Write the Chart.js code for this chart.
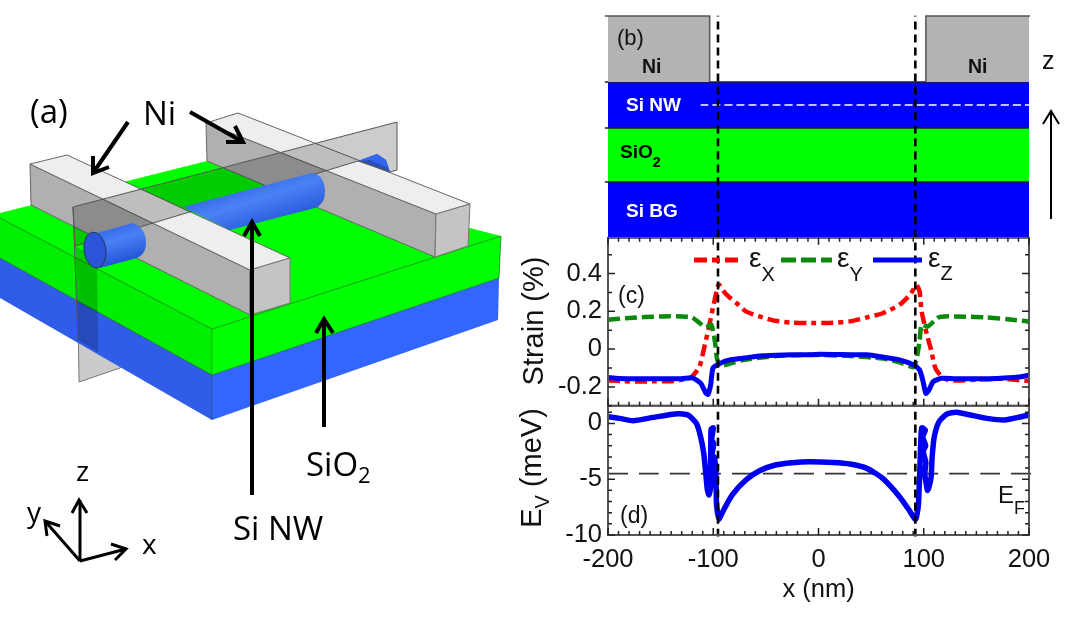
<!DOCTYPE html>
<html>
<head>
<meta charset="utf-8">
<title>Si nanowire strain</title>
<script src="https://cdn.jsdelivr.net/npm/chart.js@4"></script>
<style>
  html, body { margin: 0; padding: 0; background: #fff; }
  #wrap { position: relative; width: 1088px; height: 619px; overflow: hidden; }
  #plot, #art { position: absolute; left: 0; top: 0; }
  .open { font-family: "Open Sans", sans-serif; fill: #000; }
  .lib { font-family: "Liberation Sans", Arial, sans-serif; fill: #111; }
</style>
</head>
<body>
<div id="wrap">
  <canvas id="plot" width="1088" height="619"></canvas>
  <svg id="art" width="1088" height="619" viewBox="0 0 1088 619">
    <defs>
      <linearGradient id="wire" gradientUnits="userSpaceOnUse" x1="245" y1="180" x2="262" y2="232">
        <stop offset="0" stop-color="#2f62e6"/>
        <stop offset="0.4" stop-color="#4a82f5"/>
        <stop offset="1" stop-color="#2453d8"/>
      </linearGradient>
      <linearGradient id="stub" gradientUnits="userSpaceOnUse" x1="113" y1="224" x2="124" y2="262">
        <stop offset="0" stop-color="#2f62e6"/>
        <stop offset="0.4" stop-color="#4a82f5"/>
        <stop offset="1" stop-color="#2453d8"/>
      </linearGradient>
    </defs>

    <!-- (a) device sketch -->
    <polygon points="77,250 200,250 120,368 79,382" fill="#cbcbcb" stroke="#777" stroke-width="1"/>
    <polygon points="0,258 212,375 212,420 0,298" fill="#2f5de8"/>
    <polygon points="212,375 499,278 498,320 212,420" fill="#3366ff"/>
    <polygon points="0,218 212,329 212,375 0,258" fill="#00ee00"/>
    <polygon points="212,329 501,236 499,278 212,375" fill="#00ff00"/>
    <polygon points="0,213 207,161 501,236 212,329 0,218" fill="#00ff00"/>
    <polyline points="0,218 212,329 501,236 499,278 212,375 0,258" fill="none" stroke="#0a5a0a" stroke-opacity="0.6" stroke-width="1"/>
    <line x1="212" y1="329" x2="212" y2="420" stroke="#0a5a0a" stroke-opacity="0.4" stroke-width="1"/>

    <!-- back bar -->
    <polygon points="358,161 377,154 386,160 390,172 375,178" fill="#3366ee"/>
    <polygon points="206,123 436,214 435,257 207,161" fill="#b0b0b0" stroke="#666" stroke-width="1"/>
    <polygon points="206,123 238,113 470,204 436,214" fill="#eeeeee" stroke="#666" stroke-width="1"/>
    <polygon points="436,214 470,204 468,246 435,257" fill="#c4c4c4" stroke="#777" stroke-width="1"/>

    <!-- front bar -->
    <polygon points="30,164 250,270 250,315 31,205" fill="#b0b0b0" stroke="#666" stroke-width="1"/>
    <polygon points="30,164 67,155 290,258 250,270" fill="#eeeeee" stroke="#666" stroke-width="1"/>
    <polygon points="250,270 290,258 290,303 250,315" fill="#c4c4c4" stroke="#777" stroke-width="1"/>

    <!-- vertical cut plane, upper part -->
    <polygon points="73,207 397,122 397,170 390,172 358,161 97,240 75,246" fill="#000" fill-opacity="0.2" stroke="#555" stroke-width="1"/>
    <polygon points="75,246 97,258 98,352 78,340" fill="#000" fill-opacity="0.2"/>
    <line x1="73" y1="207" x2="78" y2="340" stroke="#555" stroke-width="1"/>

    <!-- wire -->
    <path d="M183,207 L312,173 Q325,175 325,192 Q325,204 315,208 L230,230 Z" fill="url(#wire)"/>
    <path d="M97,233 L133,223 Q146,228 146,243 Q146,254 137,258 L100,268 Z" fill="url(#stub)"/>
    <ellipse cx="95" cy="250" rx="11" ry="18" transform="rotate(-8 95 250)" fill="#2a55d8" stroke="#234" stroke-width="0.8"/>
    <polygon points="358,161 377,154 386,160 390,172 388,168 370,160" fill="#3366ee"/>

    <!-- arrows in (a) -->
    <g stroke="#000" stroke-width="4" fill="none">
      <path d="M252,495 V222 M244,236 L252,222 L260,236"/>
      <path d="M324,427 V319 M316,333 L324,319 L333,333"/>
      <path d="M128,122 L93,173 M93,156 L93,173 L109,167"/>
      <path d="M190,112 L243,142 M235,126 L243,142 L226,142"/>
    </g>
    <g stroke="#000" stroke-width="3" fill="none">
      <path d="M80,561 V500 M72,513 L79,500 L87,513"/>
      <path d="M80,561 L126,549 M111,544 L126,549 L115,560"/>
      <path d="M80,561 L45,521 M47,536 L45,521 L60,526"/>
    </g>
    <text class="open" x="30" y="123" font-size="33">(a)</text>
    <text class="open" x="143" y="125" font-size="33">Ni</text>
    <text class="open" x="233" y="540" font-size="33">Si NW</text>
    <text class="open" x="306" y="476" font-size="33">SiO<tspan font-size="22" dy="7">2</tspan></text>
    <text class="open" x="76" y="481" font-size="28">z</text>
    <text class="open" x="27" y="522" font-size="28">y</text>
    <text class="open" x="142" y="554" font-size="28">x</text>

    <!-- (b) labels -->
    <text class="lib" x="617" y="45" font-size="22">(b)</text>
    <text class="lib" x="642" y="73" font-size="19.5" font-weight="bold">Ni</text>
    <text class="lib" x="968" y="73" font-size="19.5" font-weight="bold">Ni</text>
    <text class="lib" x="626" y="111" font-size="19" font-weight="bold" style="fill:#fff">Si NW</text>
    <text class="lib" x="620" y="158" font-size="19" font-weight="bold" style="fill:#000">SiO<tspan font-size="14" dy="9">2</tspan></text>
    <text class="lib" x="626" y="217" font-size="19" font-weight="bold" style="fill:#fff">Si BG</text>
    <text class="lib" x="1042" y="69" font-size="25">z</text>
    <path d="M1051,219 V111 M1043,124 L1051,111 L1059,124" stroke="#000" stroke-width="2" fill="none"/>

    <!-- (c) legend and labels -->
    <line x1="694" y1="260" x2="738" y2="260" stroke="#ff0000" stroke-width="5" stroke-dasharray="13,5,8,5"/>
    <line x1="781" y1="260" x2="832" y2="260" stroke="#0a8a0a" stroke-width="5" stroke-dasharray="15,5"/>
    <line x1="873" y1="260" x2="922" y2="260" stroke="#0000f0" stroke-width="5"/>
    <text class="lib" x="749" y="267" font-size="28">ε<tspan font-size="20" dy="14">X</tspan></text>
    <text class="lib" x="837" y="267" font-size="28">ε<tspan font-size="20" dy="14">Y</tspan></text>
    <text class="lib" x="928" y="267" font-size="28">ε<tspan font-size="20" dy="13">Z</tspan></text>
    <text class="lib" x="618" y="303" font-size="23">(c)</text>
    <text class="lib" x="620" y="523" font-size="23">(d)</text>
    <text class="lib" x="998" y="503" font-size="24">E<tspan font-size="18" dy="11">F</tspan></text>
    <text class="lib" transform="translate(543,321) rotate(-90)" text-anchor="middle" font-size="29">Strain (%)</text>
    <text class="lib" transform="translate(541,468) rotate(-90)" text-anchor="middle" font-size="29">E<tspan font-size="20" dy="8">V</tspan><tspan dy="-8"> (meV)</tspan></text>
  </svg>
</div>

<script>
// layers of panel (b), heights in px-like units above the bottom of the stack
var bgTop = 56, oxideTop = 110, wireTop = 156, niTop = 222, cutHeight = 133;
var niLeftEdge = -103.4, niRightEdge = 102;
var gateEdges = [-95.5, 92];

var strainTicks = [-0.2, 0, 0.2, 0.4];
var energyTicks = [-10, -5, 0];
var xTicks = [-200, -100, 0, 100, 200];
var fermiLevel = -4.5;

// panel (c)
var exX = [-200, -185, -170, -155, -140, -125, -120, -113, -108, -105, -100, -96, -94.5, -88, -78, -69, -56, -41, -25, -9, 14, 30, 46, 61, 77, 87, 93, 96, 98, 103, 107, 111, 117, 125, 150, 175, 198, 200];
var exY = [-0.166, -0.17, -0.172, -0.17, -0.17, -0.157, -0.145, -0.092, 0.023, 0.094, 0.226, 0.325, 0.342, 0.292, 0.244, 0.2, 0.173, 0.15, 0.14, 0.138, 0.14, 0.147, 0.168, 0.19, 0.235, 0.288, 0.338, 0.306, 0.2, 0.076, -0.004, -0.1, -0.145, -0.166, -0.162, -0.157, -0.168, -0.168];

var eyX = [-200, -180, -150, -130, -120, -113, -107, -102, -100, -98, -96.5, -94, -88, -72, -40, -8, 30, 61, 77, 90, 93, 96, 98, 104, 113, 119, 140, 158, 180, 198, 200];
var eyY = [0.156, 0.165, 0.173, 0.173, 0.168, 0.138, 0.115, 0.13, 0.094, 0.023, -0.048, -0.083, -0.083, -0.058, -0.036, -0.03, -0.036, -0.05, -0.07, -0.096, -0.057, 0.04, 0.13, 0.12, 0.165, 0.173, 0.172, 0.168, 0.158, 0.147, 0.143];

var ezX = [-200, -190, -170, -150, -130, -120, -112, -107, -105, -102.5, -100.3, -96, -88, -72, -56, -40, -25, -8, 1, 15, 30, 46, 61, 77, 90, 96, 99, 102, 105, 109, 117, 130, 150, 170, 190, 198, 200];
var ezY = [-0.15, -0.155, -0.157, -0.157, -0.157, -0.152, -0.18, -0.233, -0.24, -0.19, -0.1, -0.083, -0.062, -0.048, -0.036, -0.032, -0.03, -0.03, -0.027, -0.028, -0.03, -0.03, -0.042, -0.057, -0.083, -0.11, -0.163, -0.234, -0.216, -0.172, -0.154, -0.157, -0.157, -0.155, -0.148, -0.14, -0.138];

// panel (d), the trace runs back and forth near the contact edges
var evX = [-200, -189, -176, -157, -134, -124, -116, -112, -109, -107, -105.5, -104, -102.5, -102.5, -102, -100, -101.5, -99.5, -101.5, -99, -97.5, -97, -96, -94.5, -91.5, -82, -69, -56, -41, -25, -9, 14, 30, 46, 61, 77, 87, 92, 93.5, 95, 96.6, 98, 101.5, 99, 101.8, 99.5, 102, 101, 102.5, 103.5, 105, 107, 108, 110, 114.5, 122, 131, 147, 160, 176, 185, 200];
var evY = [0.6, 0.45, 0.24, 0.54, 0.87, 0.75, 0, -1.2, -2.7, -4.6, -6, -6.4, -5.7, -3.3, -0.5, -0.4, -1.5, -1.8, -3, -3, -4.5, -7, -8, -8.6, -8, -6.4, -5.07, -4.24, -3.73, -3.52, -3.43, -3.5, -3.64, -4.03, -4.93, -6.57, -7.9, -8.6, -8.2, -7.2, -3.3, -0.4, -0.6, -1.2, -2, -2.5, -3.5, -4.5, -5.5, -6, -5.7, -4.8, -3, -1.2, 0.15, 0.84, 1, 0.7, 0.45, 0.3, 0.45, 0.75];

function pairs(xs, ys) {
    return xs.map(function (x, i) { return { x: x, y: ys[i] }; });
}

function layer(top, bottom, color) {
    return {
        data: [{ x: -203, y: top }, { x: 200, y: top }],
        yAxisID: 'yb', showLine: true, pointRadius: 0, clip: false, order: 6,
        borderColor: '#222', borderWidth: 1.5,
        backgroundColor: color, fill: { value: bottom }
    };
}

function curve(xs, ys, axis, color, width, dash, order) {
    return {
        data: pairs(xs, ys), yAxisID: axis, showLine: true, pointRadius: 0,
        borderColor: color, borderWidth: width, borderDash: dash || [], order: order,
        fill: false, tension: 0.2, clip: false
    };
}

var datasets = [
    layer(bgTop, 0, '#0000ff'),
    layer(oxideTop, bgTop, '#00ff00'),
    layer(wireTop, oxideTop, '#0000ff'),
    {
        data: [{ x: -203, y: niTop }, { x: niLeftEdge, y: niTop }, { x: niLeftEdge, y: wireTop }],
        yAxisID: 'yb', showLine: true, pointRadius: 0, clip: false, order: 5,
        borderColor: '#555', borderWidth: 1.5, backgroundColor: '#b3b3b3', fill: { value: wireTop }
    },
    {
        data: [{ x: niRightEdge, y: wireTop }, { x: niRightEdge, y: niTop }, { x: 201, y: niTop }],
        yAxisID: 'yb', showLine: true, pointRadius: 0, clip: false, order: 5,
        borderColor: '#555', borderWidth: 1.5, backgroundColor: '#b3b3b3', fill: { value: wireTop }
    },
    curve([-112, 200], [cutHeight, cutHeight], 'yb', '#ffffff', 1.6, [8, 4], 4),
    curve(exX, exY, 'yc', '#ff0000', 4.5, [12, 5, 5, 5], 3),
    curve(eyX, eyY, 'yc', '#0a8a0a', 4.5, [12, 5], 2),
    curve(ezX, ezY, 'yc', '#0000f0', 5, [], 1),
    curve([-200, 203], [fermiLevel, fermiLevel], 'yd', '#333333', 1.8, [20, 11], 2),
    curve(evX, evY, 'yd', '#0000f0', 5.5, [], 1),
    curve([gateEdges[0], gateEdges[0]], [-0.003, 1], 'yall', '#000000', 2.6, [8, 5], 0),
    curve([gateEdges[1], gateEdges[1]], [-0.003, 1], 'yall', '#000000', 2.6, [8, 5], 0)
];

// frames and inward tick marks of (c) and (d)
var framePlugin = {
    id: 'frames',
    afterDatasetsDraw: function (chart) {
        var ctx = chart.ctx, x = chart.scales.x, yc = chart.scales.yc, yd = chart.scales.yd;
        var l = x.left, r = x.right, v, px, len;
        ctx.save();
        ctx.strokeStyle = '#555';
        ctx.lineWidth = 2;
        ctx.strokeRect(l, yc.top, r - l, yc.bottom - yc.top);
        ctx.strokeRect(l, yd.top, r - l, yd.bottom - yd.top);
        ctx.strokeStyle = '#222';
        ctx.lineWidth = 1.5;
        ctx.beginPath();
        for (v = -200; v <= 200; v += 10) {
            px = x.getPixelForValue(v);
            len = v % 100 === 0 ? 7 : 4;
            ctx.moveTo(px, yc.top); ctx.lineTo(px, yc.top + len);
            ctx.moveTo(px, yc.bottom); ctx.lineTo(px, yc.bottom - len);
            ctx.moveTo(px, yd.bottom); ctx.lineTo(px, yd.bottom - len);
        }
        for (v = -3; v <= 5; v += 1) {
            px = yc.getPixelForValue(v / 10);
            len = v % 2 === 0 ? 7 : 4;
            ctx.moveTo(l, px); ctx.lineTo(l + len, px);
            ctx.moveTo(r, px); ctx.lineTo(r - len, px);
        }
        for (v = -10; v <= 1; v += 1) {
            px = yd.getPixelForValue(v);
            len = v % 5 === 0 ? 7 : 4;
            ctx.moveTo(l, px); ctx.lineTo(l + len, px);
            ctx.moveTo(r, px); ctx.lineTo(r - len, px);
        }
        ctx.stroke();
        ctx.restore();
    }
};

function tickFont() {
    return { family: '"Liberation Sans", Arial, sans-serif', size: 25.5 };
}

function setTicks(values) {
    return function (scale) {
        scale.ticks = values.map(function (v) { return { value: v }; });
    };
}

function noPadding(scale) {
    scale.paddingTop = 0;
    scale.paddingBottom = 0;
    scale.paddingLeft = 0;
    scale.paddingRight = 0;
}

function yWidth(scale) {
    scale.width = 608;
    noPadding(scale);
}

new Chart(document.getElementById('plot').getContext('2d'), {
    type: 'scatter',
    data: { datasets: datasets },
    plugins: [framePlugin],
    options: {
        responsive: false,
        animation: false,
        events: [],
        layout: { padding: { top: 15.7, right: 59, left: 0, bottom: 0 } },
        plugins: { legend: { display: false }, tooltip: { enabled: false } },
        scales: {
            x: {
                type: 'linear', position: 'bottom', min: -200, max: 200,
                afterBuildTicks: setTicks(xTicks),
                afterFit: function (scale) { scale.height = 84; noPadding(scale); },
                grid: { display: false, drawTicks: false }, border: { display: false },
                ticks: {
                    autoSkip: false, maxRotation: 0, padding: 10, color: '#111', font: tickFont(),
                    callback: function (v) { return String(v); }
                },
                title: {
                    display: true, text: 'x (nm)', color: '#111', padding: { top: 4, bottom: 14 },
                    font: { family: '"Liberation Sans", Arial, sans-serif', size: 25.5 }
                }
            },
            yd: {
                type: 'linear', position: 'left', stack: 'v', stackWeight: 129.3, weight: 1,
                min: -10, max: 1.58,
                afterBuildTicks: setTicks(energyTicks), afterFit: yWidth,
                grid: { display: false, drawTicks: false }, border: { display: false },
                ticks: {
                    autoSkip: false, padding: 6, color: '#111', font: tickFont(),
                    callback: function (v) { return String(v); }
                }
            },
            yc: {
                type: 'linear', position: 'left', stack: 'v', stackWeight: 168, weight: 2,
                min: -0.3, max: 0.589,
                afterBuildTicks: setTicks(strainTicks), afterFit: yWidth,
                grid: { display: false, drawTicks: false }, border: { display: false },
                ticks: {
                    autoSkip: false, padding: 6, color: '#111', font: tickFont(),
                    callback: function (v) { return String(v); }
                }
            },
            yb: {
                type: 'linear', position: 'left', stack: 'v', stackWeight: 222.3, weight: 3,
                display: false, min: 0, max: 222.3
            },
            yall: { type: 'linear', position: 'left', display: false, min: 0, max: 1 }
        }
    }
});
</script>
</body>
</html>
